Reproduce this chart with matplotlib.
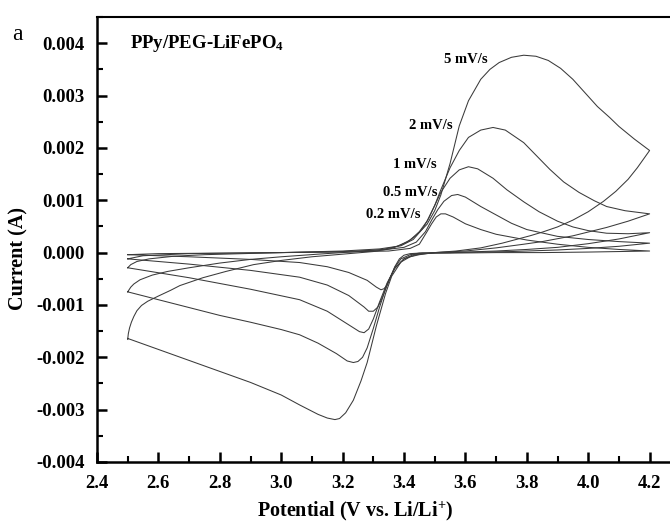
import matplotlib
matplotlib.use("Agg")
import matplotlib.pyplot as plt
from matplotlib.ticker import MultipleLocator, FuncFormatter

plt.rcParams['font.family'] = ['Liberation Serif', 'DejaVu Serif']
plt.rcParams['font.weight'] = 'bold'
plt.rcParams['mathtext.fontset'] = 'custom'
plt.rcParams['mathtext.rm'] = 'Liberation Serif:bold'
plt.rcParams['mathtext.it'] = 'Liberation Serif:bold'
plt.rcParams['mathtext.bf'] = 'Liberation Serif:bold'

# ---- data (potential in V, current in mA) ----
rates = ["0.2 mV/s", "0.5 mV/s", "1 mV/s", "2 mV/s", "5 mV/s"]

# 0.2 mV/s
v_02 = [2.50, 2.60, 2.80, 3.00, 3.20, 3.35, 3.42, 3.45, 3.475, 3.49, 3.505, 3.52, 3.535, 3.56, 3.60,
        3.65, 3.70, 3.80, 3.90, 4.00, 4.10, 4.20,
        4.10, 4.00, 3.85, 3.70, 3.55, 3.45, 3.42, 3.40, 3.385, 3.37, 3.355, 3.345, 3.335, 3.325, 3.31, 3.28,
        3.22, 3.15, 3.06, 2.90, 2.70, 2.50]
i_02 = [-0.04, -0.02, -0.01, 0.00, 0.01, 0.03, 0.08, 0.16, 0.40, 0.55, 0.68, 0.74, 0.74, 0.68, 0.55,
        0.44, 0.35, 0.24, 0.16, 0.10, 0.06, 0.03,
        0.02, 0.01, 0.00, 0.00, -0.01, -0.01, -0.02, -0.05, -0.12, -0.27, -0.48, -0.62, -0.69, -0.71, -0.66, -0.53,
        -0.38, -0.27, -0.19, -0.13, -0.08, -0.04]

# 0.5 mV/s
v_05 = [2.50, 2.55, 2.70, 3.00, 3.20, 3.33, 3.40, 3.44, 3.47, 3.49, 3.51, 3.53, 3.555, 3.575, 3.60,
        3.65, 3.70, 3.75, 3.80, 3.90, 4.00, 4.10, 4.20,
        4.10, 4.00, 3.90, 3.75, 3.55, 3.45, 3.42, 3.39, 3.37, 3.35, 3.33, 3.315, 3.30, 3.285, 3.27, 3.22,
        3.15, 3.06, 2.90, 2.70, 2.50]
i_05 = [-0.12, -0.06, -0.02, 0.00, 0.02, 0.05, 0.10, 0.20, 0.40, 0.62, 0.82, 0.98, 1.09, 1.11, 1.06,
        0.88, 0.72, 0.56, 0.44, 0.31, 0.25, 0.21, 0.18,
        0.12, 0.08, 0.05, 0.02, 0.00, -0.01, -0.04, -0.12, -0.28, -0.55, -0.85, -1.04, -1.12, -1.12, -1.04, -0.82,
        -0.62, -0.47, -0.34, -0.22, -0.12]

# 1 mV/s
v_1 = [2.50, 2.51, 2.53, 2.57, 2.65, 2.75, 3.00, 3.20, 3.32, 3.39, 3.43, 3.46, 3.48, 3.50, 3.52, 3.55,
       3.58, 3.61, 3.64, 3.69, 3.735, 3.79, 3.84, 3.90, 3.95, 4.00, 4.06, 4.13, 4.20,
       4.10, 4.00, 3.90, 3.80, 3.70, 3.55, 3.46, 3.43, 3.40, 3.37, 3.345, 3.32, 3.30, 3.285, 3.27, 3.255,
       3.22, 3.15, 3.06, 2.90, 2.70, 2.50]
i_1 = [-0.29, -0.23, -0.17, -0.12, -0.07, -0.04, 0.00, 0.03, 0.07, 0.13, 0.25, 0.45, 0.65, 0.90, 1.15, 1.42,
       1.58, 1.64, 1.60, 1.42, 1.20, 0.97, 0.78, 0.60, 0.49, 0.42, 0.37, 0.36, 0.38,
       0.26, 0.17, 0.10, 0.06, 0.03, 0.00, -0.01, -0.04, -0.12, -0.30, -0.58, -0.95, -1.27, -1.46, -1.53, -1.51,
       -1.38, -1.12, -0.90, -0.70, -0.48, -0.29]

# 2 mV/s
v_2 = [2.50, 2.51, 2.52, 2.54, 2.58, 2.63, 2.70, 2.80, 2.90, 3.00, 3.12, 3.25, 3.33, 3.38, 3.42, 3.45,
       3.475, 3.50, 3.52, 3.55, 3.58, 3.61, 3.65, 3.69, 3.73, 3.79, 3.84, 3.875, 3.92, 3.97, 4.02,
       4.06, 4.12, 4.20,
       4.13, 4.06, 3.95, 3.85, 3.79, 3.70, 3.60, 3.50, 3.44, 3.40, 3.37, 3.345, 3.32, 3.30, 3.28, 3.265,
       3.25, 3.235, 3.215, 3.18, 3.12, 3.06, 3.00, 2.90, 2.80, 2.70, 2.60, 2.50]
i_2 = [-0.75, -0.66, -0.60, -0.52, -0.43, -0.36, -0.29, -0.20, -0.13, -0.08, -0.03, 0.02, 0.06, 0.12, 0.24, 0.40,
       0.60, 0.90, 1.20, 1.62, 1.95, 2.20, 2.34, 2.39, 2.34, 2.10, 1.80, 1.59, 1.35, 1.15, 0.99,
       0.88, 0.80, 0.74,
       0.60, 0.48, 0.32, 0.21, 0.16, 0.09, 0.03, 0.00, -0.04, -0.12, -0.30, -0.60, -1.05, -1.45, -1.82, -2.00,
       -2.08, -2.10, -2.07, -1.93, -1.73, -1.57, -1.47, -1.33, -1.20, -1.05, -0.90, -0.75]

# 5 mV/s
v_5 = [2.50, 2.502, 2.506, 2.512, 2.52, 2.53, 2.545, 2.565, 2.60, 2.64, 2.67, 2.745, 2.82, 2.91, 3.00, 3.10,
       3.20, 3.30, 3.36, 3.41, 3.44, 3.475, 3.50, 3.52, 3.55, 3.58, 3.61, 3.65, 3.68, 3.71, 3.75, 3.79,
       3.83, 3.87, 3.91, 3.95, 3.99, 4.03, 4.07, 4.10, 4.15, 4.20,
       4.16, 4.13, 4.09, 4.05, 4.00, 3.95, 3.90, 3.85, 3.81, 3.72, 3.65, 3.57, 3.50, 3.45, 3.42, 3.39,
       3.36, 3.34, 3.31, 3.28, 3.26, 3.235, 3.21, 3.19, 3.175, 3.15, 3.12, 3.06, 3.00, 2.90, 2.80, 2.70,
       2.60, 2.50]
i_5 = [-1.66, -1.55, -1.44, -1.33, -1.22, -1.11, -1.01, -0.93, -0.83, -0.72, -0.63, -0.48, -0.36, -0.23, -0.15, -0.08,
       -0.03, 0.02, 0.08, 0.20, 0.33, 0.54, 0.80, 1.10, 1.70, 2.42, 2.90, 3.31, 3.50, 3.63, 3.73, 3.77,
       3.75, 3.67, 3.52, 3.31, 3.05, 2.79, 2.58, 2.41, 2.17, 1.95,
       1.62, 1.40, 1.17, 0.98, 0.78, 0.62, 0.49, 0.39, 0.32, 0.18, 0.09, 0.03, 0.00, -0.04, -0.08, -0.18,
       -0.45, -0.78, -1.40, -2.10, -2.45, -2.82, -3.06, -3.17, -3.19, -3.16, -3.09, -2.91, -2.72, -2.48, -2.27, -2.06,
       -1.85, -1.64]

label_x = [3.455, 3.51, 3.507, 3.56, 3.674]
label_y = [0.73, 1.15, 1.68, 2.43, 3.69]

curves = [(v_02, i_02), (v_05, i_05), (v_1, i_1), (v_2, i_2), (v_5, i_5)]

# ---- figure ----
fig = plt.figure(figsize=(6.7, 5.25), dpi=100)
ax = fig.add_axes([97/670, 63/525, 573/670, 445/525])

for v, i in curves:
    ax.plot(v, [c * 1e-3 for c in i], color='#3a3a3a', lw=0.75)

for name, lx, ly in zip(rates, label_x, label_y):
    ax.text(lx, ly * 1e-3, name, ha='right', va='center', fontsize=10.5, fontweight='bold')

ax.text(2.507, 0.004, 'PPy/PEG-LiFePO$_4$', ha='left', va='center', fontsize=13.5, fontweight='bold')

ax.set_xlim(2.4, 2.4 + 573/307)
ax.set_ylim(-0.004, 0.0045)
ax.xaxis.set_major_locator(MultipleLocator(0.2))
ax.xaxis.set_minor_locator(MultipleLocator(0.1))
ax.yaxis.set_major_locator(MultipleLocator(0.001))
ax.yaxis.set_minor_locator(MultipleLocator(0.0005))
ax.xaxis.set_major_formatter(FuncFormatter(lambda x, p: f"{x:.1f}"))
ax.yaxis.set_major_formatter(FuncFormatter(lambda y, p: f"{y:.3f}".replace("-0.000", "0.000")))

ax.tick_params(which='major', direction='in', length=7, width=1.8, labelsize=13.5, pad=9,
               top=False, right=False)
ax.tick_params(which='minor', direction='in', length=4, width=1.5, top=False, right=False)
for lab in ax.get_xticklabels() + ax.get_yticklabels():
    lab.set_fontweight('bold')

ax.spines['right'].set_visible(False)
ax.spines['left'].set_linewidth(1.8)
ax.spines['bottom'].set_linewidth(1.8)
ax.spines['top'].set_linewidth(1.5)

ax.set_xlabel('Potential (V vs. Li/Li$^{+}$)', fontsize=14.5, fontweight='bold', labelpad=8)
ax.xaxis.set_label_coords((355 - 97) / 573, -0.085)
ax.set_ylabel('Current (A)', fontsize=14.5, fontweight='bold')
ax.yaxis.set_label_coords(-(97 - 28) / 573, (462 - 258) / 445)

fig.text(17/670, 1 - 35/525, 'a', fontsize=17, fontweight='normal', ha='center', va='center')

fig.savefig('out.png', dpi=100)
